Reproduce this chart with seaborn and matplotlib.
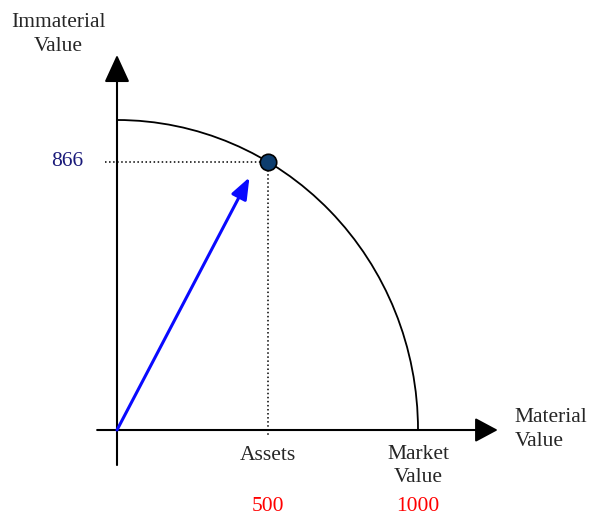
import numpy as np
import pandas as pd
import matplotlib.pyplot as plt
import seaborn as sns
from matplotlib.patches import Arc

# chart values
market_value = 1000
assets = 500
immaterial = 866
vector_tip = [440, 815]  # where the blue arrow stops, just short of the point
x_labels = ['Assets', 'Market\nValue']
x_values = [assets, market_value]
x_label_colors = ['#ff0000', '#ff0000']

sns.set_style('white')
plt.rcParams['font.family'] = ['Liberation Serif', 'DejaVu Serif']

fig = plt.figure(figsize=(5.9, 5.16), dpi=100)
ax = fig.add_axes([0, 0, 1, 1])
ax.set_xlim(-388.7, 1571.4)
ax.set_ylim(-277.4, 1387.1)
ax.axis('off')

# axes with arrow heads
ax.annotate('', xy=(1265, 0), xytext=(-66, 0),
            arrowprops=dict(arrowstyle='-|>,head_length=1.4,head_width=0.75',
                            lw=1.5, color='black', shrinkA=0, shrinkB=0,
                            mutation_scale=10))
ax.annotate('', xy=(0, 1210), xytext=(0, -113),
            arrowprops=dict(arrowstyle='-|>,head_length=1.7,head_width=0.78',
                            lw=1.5, color='black', shrinkA=0, shrinkB=0,
                            mutation_scale=10))

# quarter circle
ax.add_patch(Arc((0, 0), 2 * market_value, 2 * market_value, theta1=0, theta2=90,
                 color='black', lw=1.3))

# dotted guide lines
ax.plot([-40, assets], [immaterial, immaterial], ls=':', color='black', lw=1.1)
ax.plot([assets, assets], [immaterial, -16], ls=':', color='black', lw=1.1)

# blue vector
ax.annotate('', xy=(vector_tip[0], vector_tip[1]), xytext=(0, 0),
            arrowprops=dict(arrowstyle='-|>,head_length=1.3,head_width=0.5',
                            lw=2.2, color='#0a0aff', shrinkA=0, shrinkB=0,
                            mutation_scale=10))

pt = pd.DataFrame({'x': [assets], 'y': [immaterial]})
sns.scatterplot(data=pt, x='x', y='y', ax=ax, s=140, color='#0d3d6e',
                edgecolor='black', linewidth=1.2, zorder=5)

fs = 15.5
ax.text(-194, 1276, 'Immaterial\nValue', ha='center', va='center', fontsize=fs,
        linespacing=1.38)
ax.text(-113, immaterial, str(immaterial), ha='right', va='center', fontsize=fs,
        color='#1a1a7a')
ax.text(1322, 2, 'Material\nValue', ha='left', va='center', fontsize=fs,
        linespacing=1.38)
label_y = [-81, -116]
for lab, v, c, ly in zip(x_labels, x_values, x_label_colors, label_y):
    ax.text(v, ly, lab, ha='center', va='center', fontsize=fs, linespacing=1.25)
    ax.text(v, -247, str(v), ha='center', va='center', fontsize=fs, color=c)

fig.savefig('out.png', dpi=100)
